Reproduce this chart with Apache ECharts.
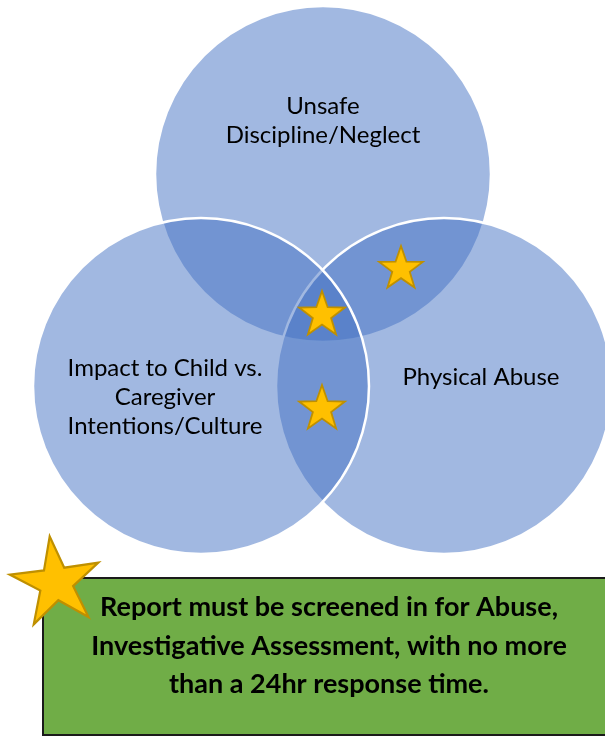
<!DOCTYPE html>
<html>
<head>
<meta charset="utf-8">
<script src="https://cdn.jsdelivr.net/npm/echarts@6/dist/echarts.min.js"></script>
<style>
html,body{margin:0;padding:0;background:#ffffff;}
#chart{width:605px;height:736px;}
</style>
</head>
<body>
<div id="chart"></div>
<script>
// Venn circles (drawing order: top, right, left)
const circleLabels = ['Unsafe\nDiscipline/Neglect', 'Physical Abuse', 'Impact to Child vs.\nCaregiver\nIntentions/Culture'];
const circleX = [323, 444, 201];
const circleY = [174, 386, 386];
const circleR = [168, 168, 168];
const labelX = [323, 481, 165];
const labelY = [121, 377, 397];

// small stars in overlaps
const starX = [401, 322, 322];
const starY = [269, 315, 409];
const starR = [23, 24, 24];

// big star and note box
const bigStarX = [56];
const bigStarY = [583];
const bigStarR = [47];
const noteText = ['Report must be screened in for Abuse,\nInvestigative Assessment, with no more\nthan a 24hr response time.'];
const noteBox = [[43, 578, 612, 735]]; // x0, y0, x1, y1 in axis units

const chart = echarts.init(document.getElementById('chart'), null, {renderer: 'canvas'});

function starPoints(cx, cy, r, rotDeg, innerRatio) {
  const pts = [];
  const rot = rotDeg * Math.PI / 180;
  for (let i = 0; i < 10; i++) {
    const rr = i % 2 === 0 ? r : r * innerRatio;
    const a = rot + i * Math.PI / 5;
    pts.push([cx + rr * Math.sin(a), cy - rr * Math.cos(a)]);
  }
  return pts;
}

const option = {
  animation: false,
  grid: {left: 0, right: 0, top: 0, bottom: 0},
  xAxis: {type: 'value', min: 0, max: 605, show: false},
  yAxis: {type: 'value', min: 0, max: 736, inverse: true, show: false},
  series: [
    {
      type: 'custom',
      name: 'circles',
      z: 1,
      data: circleX.map((x, i) => [x, circleY[i], circleR[i]]),
      renderItem: function (params, api) {
        const c = api.coord([api.value(0), api.value(1)]);
        const r = api.size([api.value(2), 0])[0];
        return {
          type: 'circle',
          shape: {cx: c[0], cy: c[1], r: r},
          style: {fill: 'rgba(68,114,196,0.5)', stroke: '#ffffff', lineWidth: 2.5}
        };
      }
    },
    {
      type: 'custom',
      name: 'labels',
      z: 2,
      data: labelX.map((x, i) => [x, labelY[i], i]),
      renderItem: function (params, api) {
        const c = api.coord([api.value(0), api.value(1)]);
        return {
          type: 'text',
          style: {
            text: circleLabels[api.value(2)],
            x: c[0], y: c[1],
            align: 'center', verticalAlign: 'middle',
            font: '24px Lato', lineHeight: 29, fill: '#000000'
          }
        };
      }
    },
    {
      type: 'custom',
      name: 'stars',
      z: 3,
      data: starX.map((x, i) => [x, starY[i], starR[i]]),
      renderItem: function (params, api) {
        const c = api.coord([api.value(0), api.value(1)]);
        const r = api.size([api.value(2), 0])[0];
        return {
          type: 'polygon',
          shape: {points: starPoints(c[0], c[1], r, 0, 0.4)},
          style: {fill: '#FFC000', stroke: '#BF9000', lineWidth: 1.8, lineJoin: 'miter'}
        };
      }
    },
    {
      type: 'custom',
      name: 'note',
      z: 4,
      data: noteBox.map((b, i) => [b[0], b[1], b[2], b[3], i]),
      renderItem: function (params, api) {
        const p0 = api.coord([api.value(0), api.value(1)]);
        const p1 = api.coord([api.value(2), api.value(3)]);
        return {
          type: 'group',
          children: [
            {
              type: 'rect',
              shape: {x: p0[0], y: p0[1], width: p1[0] - p0[0], height: p1[1] - p0[1]},
              style: {fill: '#70AD47', stroke: '#1a1a1a', lineWidth: 2}
            },
            {
              type: 'text',
              style: {
                text: noteText[api.value(4)],
                x: 329, y: 646,
                align: 'center', verticalAlign: 'middle',
                font: 'bold 27px Lato', lineHeight: 38.5, fill: '#000000'
              }
            }
          ]
        };
      }
    },
    {
      type: 'custom',
      name: 'bigStar',
      z: 5,
      data: bigStarX.map((x, i) => [x, bigStarY[i], bigStarR[i]]),
      renderItem: function (params, api) {
        const c = api.coord([api.value(0), api.value(1)]);
        const r = api.size([api.value(2), 0])[0];
        return {
          type: 'polygon',
          shape: {points: starPoints(c[0], c[1], r, -7.7, 0.37)},
          style: {fill: '#FFC000', stroke: '#BF9000', lineWidth: 2.2, lineJoin: 'miter'}
        };
      }
    }
  ]
};
chart.setOption(option);
</script>
</body>
</html>
